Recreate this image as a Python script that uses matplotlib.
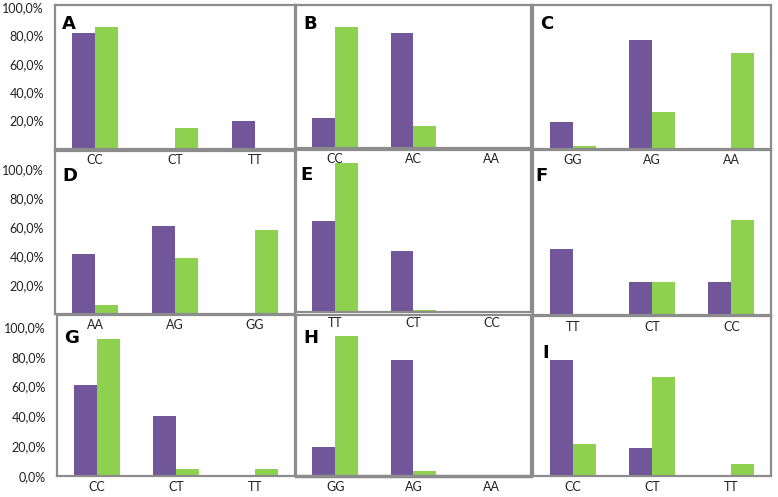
import matplotlib.pyplot as plt

plt.rcParams['font.family'] = ['Lato', 'DejaVu Sans']

PURPLE = '#72569A'
GREEN = '#8ED14F'
EDGE = '#8C8C8C'

# genotype categories per panel
cats_A = ['CC', 'CT', 'TT']
cats_B = ['CC', 'AC', 'AA']
cats_C = ['GG', 'AG', 'AA']
cats_D = ['AA', 'AG', 'GG']
cats_E = ['TT', 'CT', 'CC']
cats_F = ['TT', 'CT', 'CC']
cats_G = ['CC', 'CT', 'TT']
cats_H = ['GG', 'AG', 'AA']
cats_I = ['CC', 'CT', 'TT']

# percentages, purple series / green series
purple_A = [81.5, 0, 20]
green_A = [86, 15, 0]
purple_B = [21, 81.5, 0]
green_B = [86, 15.5, 0]
purple_C = [19, 77, 0]
green_C = [2, 26, 67.5]
purple_D = [41.5, 60.5, 0]
green_D = [6, 38.5, 58]
purple_E = [63, 42, 0]
green_E = [103, 1.5, 0]
purple_F = [46, 23.5, 23.5]
green_F = [1.5, 23.5, 66]
purple_G = [61, 40.5, 0]
green_G = [92, 5, 5]
purple_H = [19.5, 78, 0]
green_H = [94, 3.5, 0]
purple_I = [78, 19, 0]
green_I = [21.5, 66.5, 8]

W, H = 778, 497


def make_axes(fig, left, right, top, base):
    ax = fig.add_axes([left / W, 1 - base / H, (right - left) / W, (base - top) / H])
    ax.set_facecolor('none')
    return ax


def draw_panel(ax, letter, cats, purple, green, ymax, yticks=None, letter_xy=(0.03, 0.93)):
    x = range(len(cats))
    bw = 0.29
    ax.bar([i - bw / 2 for i in x], purple, bw, color=PURPLE)
    ax.bar([i + bw / 2 for i in x], green, bw, color=GREEN)
    ax.set_xlim(-0.5, len(cats) - 0.5)
    ax.set_ylim(0, ymax)
    ax.set_xticks(list(x))
    ax.set_xticklabels(cats, fontsize=9, color='#222222')
    ax.tick_params(axis='x', length=0, pad=3.5)
    if yticks:
        ax.set_yticks(yticks)
        ax.set_yticklabels(['{:.1f}%'.format(t).replace('.', ',') for t in yticks],
                           fontsize=9, color='#222222')
        ax.tick_params(axis='y', length=0, pad=8)
    else:
        ax.set_yticks([])
    for s in ax.spines.values():
        s.set_color(EDGE)
        s.set_linewidth(1.6)
    ax.text(letter_xy[0], letter_xy[1], letter, transform=ax.transAxes,
            fontsize=13, fontweight='bold', va='top', ha='left', family='DejaVu Sans')


fig = plt.figure(figsize=(7.78, 4.97), dpi=100)

# row 1
axA = make_axes(fig, 55, 295, 5, 149)
axB = make_axes(fig, 296, 531, 5, 148)
axC = make_axes(fig, 533, 771, 5, 149)
draw_panel(axA, 'A', cats_A, purple_A, green_A, 101.4, [20, 40, 60, 80, 100])
draw_panel(axB, 'B', cats_B, purple_B, green_B, 101.4)
draw_panel(axC, 'C', cats_C, purple_C, green_C, 101.4)

# row 2
axD = make_axes(fig, 55, 295, 151, 314)
axE = make_axes(fig, 296, 531, 150, 312)
axF = make_axes(fig, 533, 771, 150, 316)
draw_panel(axD, 'D', cats_D, purple_D, green_D, 112.4, [20, 40, 60, 80, 100], (0.03, 0.90))
draw_panel(axE, 'E', cats_E, purple_E, green_E, 111.7, None, (0.02, 0.90))
draw_panel(axF, 'F', cats_F, purple_F, green_F, 114.5, None, (0.01, 0.90))

# row 3
axG = make_axes(fig, 57, 295, 315, 476)
axH = make_axes(fig, 296, 531, 315, 476)
axI = make_axes(fig, 533, 771, 315, 476)
draw_panel(axG, 'G', cats_G, purple_G, green_G, 108, [0, 20, 40, 60, 80, 100], (0.03, 0.91))
draw_panel(axH, 'H', cats_H, purple_H, green_H, 108, None, (0.03, 0.91))
draw_panel(axI, 'I', cats_I, purple_I, green_I, 108, None, (0.04, 0.82))
axH.spines['bottom'].set_linewidth(2.5)

fig.savefig('out.png', dpi=100)
